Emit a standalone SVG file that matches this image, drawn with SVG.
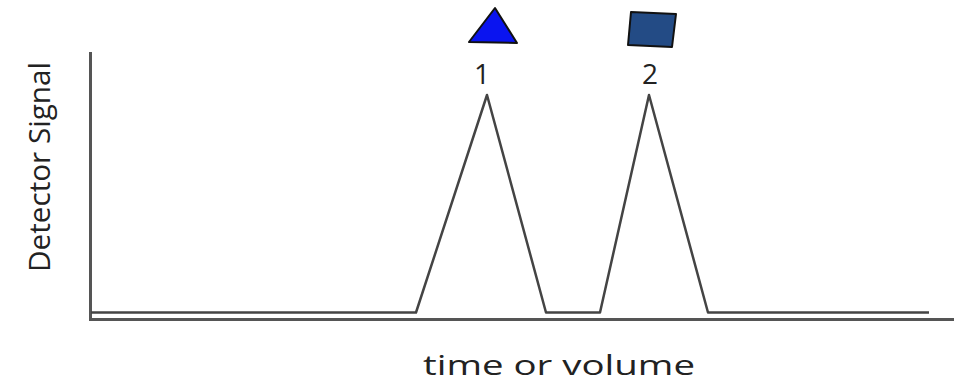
<svg xmlns="http://www.w3.org/2000/svg" width="954" height="390" viewBox="0 0 954 390">
<style>
.ax{stroke:#555;stroke-width:3;fill:none}
.sig{stroke:#444;stroke-width:2.5;fill:none;stroke-linejoin:round}
.lbl{font-family:"Open Sans","DejaVu Sans",sans-serif;fill:#222}
</style>
<rect width="954" height="390" fill="#fff"/>
<g id="axes">
<polyline class="ax" points="90.5,52 90.5,319.5 954,319.5"/>
</g>
<g id="signal">
<polyline class="sig" points="91,312.5 416,312.5 487,95 546,312.5 600,312.5 649,95 708,312.5 929,312.5"/>
</g>
<g id="peak1">
<polygon points="495,8 469,42 517,43" fill="#0a14f0" stroke="#111" stroke-width="2" stroke-linejoin="round"/>
<text class="lbl" x="482" y="84" font-size="28" font-weight="500" text-anchor="middle">1</text>
</g>
<g id="peak2">
<polygon points="631,12 676,14 672,47 628,45" fill="#234b85" stroke="#111" stroke-width="2" stroke-linejoin="round"/>
<text class="lbl" x="650" y="84" font-size="28" font-weight="500" text-anchor="middle">2</text>
</g>
<g id="ylabel">
<text class="lbl" transform="translate(50,272) rotate(-90)" font-size="29" textLength="210" lengthAdjust="spacingAndGlyphs">Detector Signal</text>
</g>
<g id="xlabel">
<text class="lbl" x="423" y="375" font-size="28" font-weight="500" textLength="272" lengthAdjust="spacingAndGlyphs">time or volume</text>
</g>
</svg>
